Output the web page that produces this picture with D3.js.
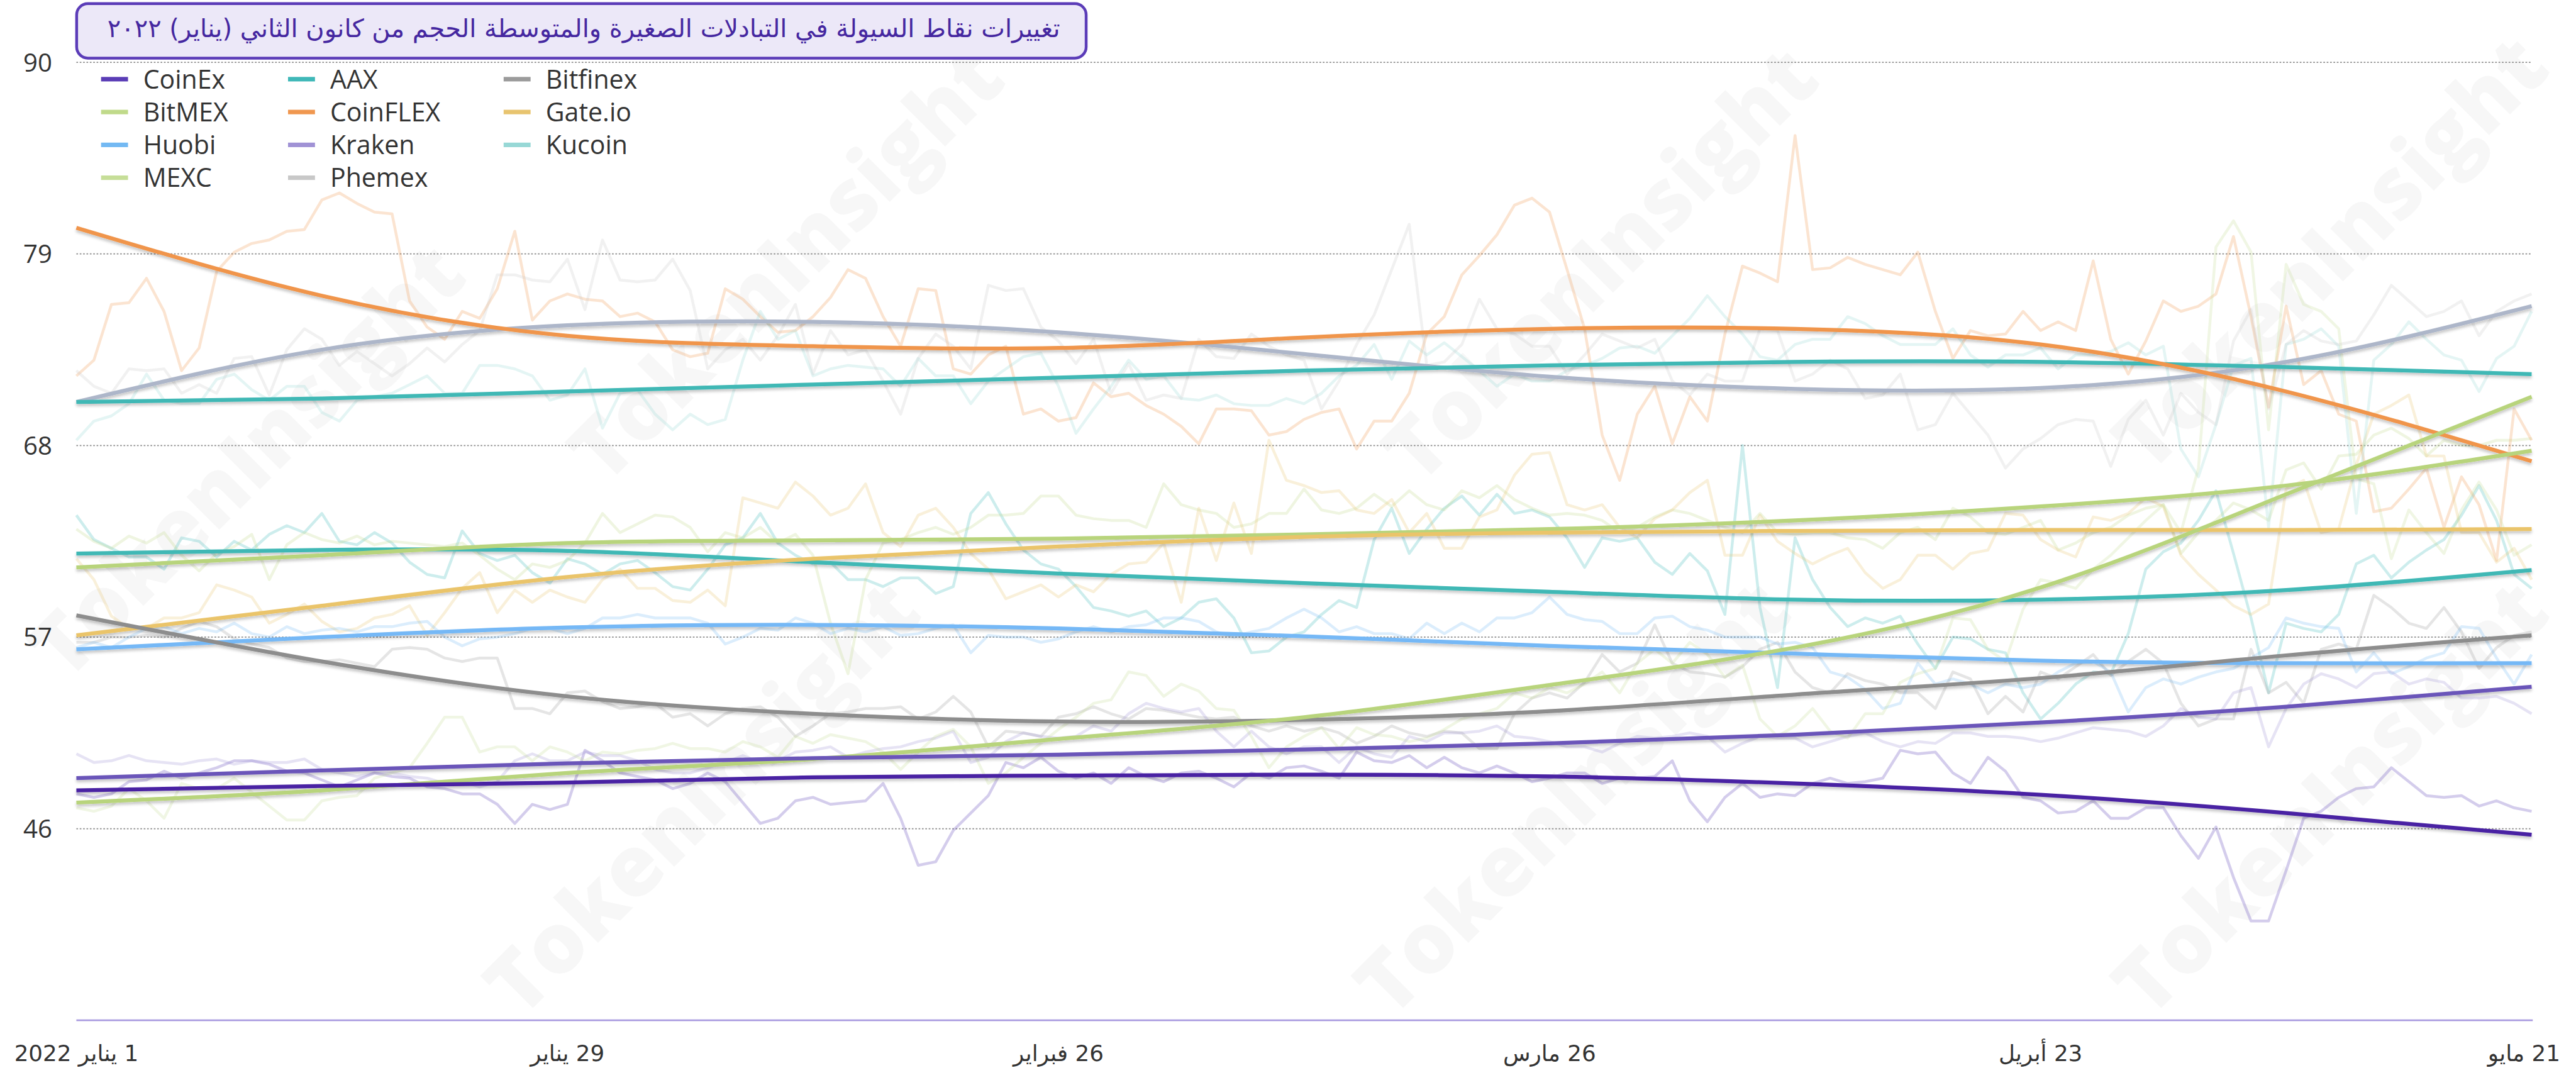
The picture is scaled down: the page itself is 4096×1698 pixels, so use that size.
<!DOCTYPE html>
<html>
<head>
<meta charset="utf-8">
<script src="https://cdn.jsdelivr.net/npm/d3@7"></script>
<style>
  html, body { margin: 0; padding: 0; background: #fff; }
  svg { display: block; }
</style>
</head>
<body>
<svg id="chart"></svg>
<script>
var W = 4096, H = 1698,
    k = W / 4588;          // reference was 4588 wide, everything is drawn in its units

// ---- data ----
var startDate = new Date(2022, 0, 1),
    endDate = new Date(2022, 4, 21);

var names = ["CoinEx", "AAX", "Bitfinex", "BitMEX", "CoinFLEX", "Gate.io",
             "Huobi", "Kraken", "Kucoin", "MEXC", "Phemex"];

var swatchColors = ["#5a3db6", "#3fb8b8", "#9b9b9b", "#c0da8a", "#f0974f", "#e8c46f",
                    "#73b9f3", "#a092d5", "#97d8d6", "#c6de98", "#c8c8c8"];

var trendColors = ["#4a23a3", "#3fb8b5", "#8d8d8d", "#b8d47b", "#f0954b", "#eac46b",
                   "#74b8f6", "#6b55b9", "#3fb8b5", "#b8d47b", "#adb6c9"];

// daily values, 1 Jan .. 21 May
var coinexRaw = [48.0,47.8,48.0,48.7,48.8,49.3,48.9,49.2,49.5,49.9,49.9,49.7,49.3,49.2,48.8,48.4,48.8,49.2,49.0,48.9,48.4,48.3,48.0,48.0,47.4,46.3,47.4,47.1,47.4,50.5,49.9,49.2,49.0,48.8,48.3,48.6,
  49.2,48.7,47.5,46.3,46.6,47.6,47.8,47.4,47.5,47.6,48.6,46.6,43.9,44.1,45.9,46.9,47.9,49.8,49.5,50.1,49.3,48.9,49.2,48.6,49.5,49.0,48.7,49.2,49.3,48.9,48.4,49.2,48.9,49.5,
  49.6,49.3,48.9,50.4,49.9,49.8,50.2,49.5,50.1,49.5,49.2,49.6,49.2,48.7,48.9,49.2,49.2,48.6,48.9,48.9,49.0,49.9,47.6,46.4,47.8,48.6,47.8,48.0,47.9,48.6,48.9,48.6,48.7,48.9,50.5,
  50.3,50.4,49.2,48.6,50.1,49.3,47.8,47.6,46.9,47.0,47.6,46.6,46.6,47.2,47.2,45.6,44.3,46.1,43.2,40.7,40.7,43.6,46.6,47.0,47.8,48.3,48.4,49.5,48.7,47.9,47.8,47.9,47.3,47.6,47.2,47.0];
var aaxRaw = [64.0,62.6,62.1,61.6,61.6,60.9,62.7,62.5,61.6,62.5,62.0,62.9,63.4,63.0,64.1,62.5,62.3,63.0,62.4,61.3,60.6,60.4,63.1,61.8,61.4,61.7,60.7,60.1,61.5,61.2,60.6,61.2,61.4,60.7,59.9,59.7,
  60.9,62.3,62.7,64.1,62.4,61.7,61.2,61.3,60.3,60.3,59.9,60.4,60.4,59.5,59.9,64.1,65.3,63.5,62.0,61.2,60.9,59.9,58.7,58.5,58.2,58.5,57.6,58.1,59.0,59.2,58.1,56.1,56.2,57.0,
  57.3,58.3,59.1,58.7,62.6,64.4,61.8,63.2,64.4,65.1,64.0,65.2,64.1,64.3,63.9,62.7,61.0,62.7,62.5,62.7,61.3,60.6,61.8,60.8,58.3,68.0,58.7,54.1,62.7,60.3,58.7,57.6,58.1,57.8,58.2,
  56.6,55.2,57.0,56.9,56.3,56.1,53.8,52.3,53.2,54.3,55.0,54.9,57.2,60.9,61.9,62.4,63.7,65.4,61.8,58.1,53.8,57.8,57.5,57.3,58.3,61.2,61.7,60.4,61.3,62.0,62.6,64.0,65.7,63.7,60.6,59.8];
var bitfinexRaw = [56.7,56.7,57.0,57.0,57.1,57.0,57.5,57.9,57.6,56.9,56.6,56.4,55.8,55.6,55.6,55.7,55.5,55.3,56.3,56.4,56.3,55.8,55.6,55.8,55.8,52.9,52.9,52.6,53.8,53.9,53.3,52.9,53.0,53.2,52.4,52.6,
  51.9,52.6,52.9,53.0,52.4,51.3,51.9,52.6,52.7,52.9,52.9,53.0,52.3,52.7,53.6,52.7,50.7,51.6,51.5,51.3,52.4,52.6,53.0,52.6,52.3,52.9,52.8,52.6,52.4,52.3,52.4,51.9,51.6,51.9,
  51.6,51.8,51.5,50.9,51.3,51.9,51.5,51.3,51.6,51.5,50.6,50.6,52.6,53.5,53.8,53.5,54.4,56.0,55.0,55.5,57.7,55.5,55.0,54.9,54.7,55.3,56.3,56.7,55.0,54.1,53.8,54.9,54.5,54.3,53.8,
  53.8,52.9,55.0,54.6,52.6,53.6,52.7,55.0,54.6,55.3,56.0,54.8,55.6,56.3,55.5,53.2,51.9,52.3,52.3,56.3,53.8,54.4,53.2,56.3,56.6,56.3,59.4,58.7,57.8,57.5,58.7,57.3,55.2,56.4,57.1,57.3];
var bitmexRaw = [63.2,62.5,62.1,62.8,62.4,63.0,61.7,60.8,61.8,62.2,62.9,60.3,62.3,63.0,62.6,62.4,62.8,62.3,62.5,62.4,62.3,62.2,62.4,61.7,60.9,60.3,61.2,61.0,61.4,62.4,64.1,63.0,63.5,64.0,63.9,63.3,
  61.9,63.0,62.7,63.3,62.4,62.9,61.7,57.8,54.9,60.3,62.4,62.6,63.0,63.3,62.9,63.3,64.0,64.0,64.1,65.1,65.1,64.0,63.8,63.7,63.7,63.3,65.8,64.6,64.3,64.1,63.3,63.5,64.1,64.1,
  65.5,64.3,64.1,64.4,65.2,64.5,65.4,64.6,64.3,65.4,65.0,65.7,64.9,64.4,64.0,64.1,64.0,63.7,63.0,63.3,63.9,64.3,64.1,63.7,63.3,63.0,64.1,63.0,62.9,63.0,63.0,62.7,62.6,62.1,63.0,
  63.3,62.6,64.4,63.9,63.0,62.9,63.3,63.7,62.0,62.4,63.0,63.3,64.0,64.4,64.6,61.8,63.0,63.7,64.7,64.3,63.7,66.6,67.0,65.5,67.4,67.5,68.6,69.0,68.4,67.4,68.3,68.0,68.0,68.3,68.3,68.4];
var coinflexRaw = [72.0,72.9,76.1,76.2,77.6,75.7,72.3,73.6,78.0,79.1,79.6,79.8,80.3,80.4,82.1,82.5,81.9,81.4,81.3,76.3,74.8,74.1,75.7,75.3,77.0,80.3,75.2,76.3,76.7,76.4,76.3,75.4,75.6,75.1,73.5,73.1,
  73.3,77.0,76.4,75.4,74.5,74.6,75.4,76.5,78.1,77.6,75.4,73.7,77.0,76.9,72.4,72.1,73.2,73.7,69.8,70.1,69.4,69.6,71.6,70.8,71.0,70.3,69.8,69.1,68.1,70.1,70.1,70.0,68.6,68.8,
  69.5,69.9,70.1,67.8,69.4,69.4,71.0,74.4,75.4,77.8,78.9,80.1,81.8,82.2,81.4,78.1,74.7,68.6,66.0,69.8,71.4,68.1,70.8,69.4,74.4,78.3,77.9,77.4,85.8,78.1,78.2,78.8,78.4,78.1,77.8,
  79.1,75.7,73.0,74.6,74.3,74.4,75.7,74.6,75.1,74.6,78.6,74.1,72.1,74.0,76.3,75.7,76.0,76.7,80.0,75.4,70.2,76.0,71.5,72.3,69.8,69.4,64.2,64.4,65.5,66.7,63.3,66.2,64.6,61.4,70.1,68.3];
var gateioRaw = [61.5,60.3,58.2,57.5,57.5,58.1,58.1,58.4,60.0,59.7,59.3,57.8,58.3,58.9,57.9,57.3,57.5,58.1,58.3,58.8,57.1,58.4,59.8,60.7,58.4,59.7,59.0,59.7,59.3,59.0,60.3,60.9,59.8,59.8,59.1,59.0,
  59.7,58.8,65.0,64.7,64.4,65.9,65.1,64.0,64.4,65.8,63.0,62.2,64.0,64.4,63.3,61.8,60.9,59.2,59.6,60.0,59.3,60.0,59.6,60.6,61.2,61.3,62.4,59.0,64.4,61.4,64.7,61.8,68.3,66.0,
  65.7,65.3,65.4,64.3,64.1,64.9,63.0,64.1,62.1,62.1,63.9,64.3,66.3,67.5,67.6,64.6,64.3,64.6,63.3,62.7,63.8,64.3,65.3,66.0,61.7,61.7,64.0,62.5,61.8,61.2,61.7,62.1,60.7,59.8,60.3,
  61.7,61.7,60.9,61.8,62.0,64.1,64.0,62.6,62.0,61.6,63.9,63.7,64.1,65.0,64.5,61.7,60.6,59.7,58.8,58.3,58.9,65.5,66.0,63.0,63.2,66.9,69.8,70.3,70.9,67.4,67.4,63.0,63.0,61.3,62.1,60.3];
var huobiRaw = [56.4,56.7,56.4,57.0,57.5,57.6,57.2,57.5,57.3,57.8,57.2,57.0,57.6,57.2,57.4,57.5,57.3,57.6,57.6,57.8,57.9,57.0,56.5,56.9,57.0,57.2,57.5,57.5,57.2,57.5,58.1,58.1,58.3,58.1,58.1,58.1,
  57.8,56.6,57.0,57.5,57.4,58.1,57.8,57.2,57.5,57.3,57.6,57.1,57.2,57.5,57.7,56.1,57.1,57.0,57.0,56.7,56.9,57.3,57.6,57.3,57.6,57.7,58.1,58.1,57.9,57.3,57.0,57.3,57.5,58.1,
  58.6,58.1,57.3,57.6,57.2,57.2,56.9,57.8,57.2,57.8,57.3,58.1,58.1,58.4,59.3,58.3,58.0,57.9,57.2,57.2,58.1,58.2,57.6,57.4,57.0,57.0,57.0,56.6,56.7,56.4,55.0,54.7,54.0,52.9,53.2,
  55.5,54.3,54.6,54.3,53.8,54.3,54.1,54.3,55.0,55.5,55.6,55.0,52.7,54.1,54.6,54.3,54.7,55.0,55.2,55.8,56.4,58.1,57.8,57.6,57.5,55.0,56.1,54.9,55.3,55.8,56.1,57.6,57.5,55.8,54.3,56.0];
var krakenRaw = [50.3,49.8,49.9,50.2,49.9,49.8,49.7,49.9,50.0,49.7,49.9,49.8,49.8,50.0,49.4,49.2,49.0,49.2,49.2,49.0,48.9,48.6,48.7,48.4,48.7,49.9,50.3,49.9,49.9,50.4,50.2,50.2,49.9,49.4,49.2,49.2,
  49.5,49.8,50.2,49.8,49.9,50.4,50.5,50.7,50.1,50.4,50.6,50.7,51.0,51.2,51.6,49.8,50.1,51.0,51.5,51.3,51.2,51.3,51.9,51.6,52.6,53.2,52.9,52.7,52.9,51.6,50.7,51.6,50.7,50.3,
  50.7,50.7,49.8,50.7,50.3,50.1,51.3,51.0,51.5,51.5,51.6,51.9,51.3,51.2,51.0,50.7,50.7,50.4,50.9,51.3,51.2,51.3,51.5,51.3,50.4,50.9,51.3,51.2,51.2,50.7,51.0,51.3,51.5,51.0,50.7,
  51.0,50.9,51.5,51.5,51.3,51.3,51.2,51.0,51.2,51.5,51.8,51.7,51.6,51.3,51.9,52.9,52.4,52.3,53.8,54.1,50.7,52.9,54.3,54.9,54.6,54.1,54.9,55.0,54.3,54.6,54.4,53.5,53.5,53.6,53.2,52.6];
var kucoinRaw = [68.3,69.4,69.7,70.4,72.1,70.6,70.4,70.4,71.8,72.1,71.2,70.6,71.4,71.4,69.9,69.4,70.6,70.8,71.0,71.5,72.0,71.0,71.0,72.6,72.6,72.4,72.0,70.6,70.9,72.4,69.0,71.0,71.2,69.8,68.9,69.8,
  69.2,69.5,72.9,75.7,74.1,74.6,72.0,72.4,72.6,72.5,72.4,71.4,73.0,72.0,72.0,70.4,71.7,72.4,73.1,73.3,71.4,68.7,70.1,71.4,72.9,71.8,72.0,70.7,70.6,70.9,70.4,70.3,70.3,70.7,
  70.4,71.0,72.0,72.6,73.8,71.8,74.0,73.2,73.9,73.1,72.3,71.4,72.1,71.7,71.7,72.3,72.6,73.0,73.6,73.7,73.3,74.3,75.3,76.6,75.4,74.4,73.1,72.9,73.8,74.1,74.1,75.4,75.0,74.3,73.8,
  73.8,73.8,74.7,73.2,72.5,73.2,73.2,73.6,72.4,73.2,73.2,73.4,73.9,73.2,73.7,67.8,66.2,69.2,72.6,73.0,63.3,73.8,74.1,74.7,73.7,64.1,72.9,73.8,75.1,74.1,73.2,72.9,71.1,73.0,73.7,75.7];
var mexcRaw = [47.2,47.0,47.3,48.3,47.6,46.6,48.6,48.3,48.3,48.9,48.1,47.3,46.5,46.5,47.6,47.8,47.9,48.9,49.2,49.5,50.9,52.4,52.4,50.4,50.7,50.7,49.9,50.7,50.4,49.9,50.4,50.3,50.5,50.6,50.9,50.6,
  50.6,50.4,51.0,50.7,50.1,51.3,50.9,51.4,51.2,51.0,50.4,49.4,50.4,51.3,51.7,50.7,48.6,49.2,50.1,50.9,51.7,52.4,53.2,53.4,55.0,54.8,53.6,54.3,53.9,52.9,52.8,51.3,49.5,50.7,
  51.3,51.8,50.6,51.8,51.4,51.3,51.0,51.2,51.7,52.3,52.6,52.9,53.8,53.5,54.1,53.8,54.3,55.0,53.8,55.5,56.3,55.5,56.7,56.0,54.7,55.4,52.3,51.3,51.9,52.9,51.6,51.2,52.6,52.6,54.4,
  54.9,55.2,58.1,58.0,56.3,55.6,58.6,60.3,60.1,59.8,60.9,61.7,62.7,63.7,64.6,63.0,66.7,79.4,80.9,79.1,68.9,78.4,76.1,75.7,74.7,66.1,65.8,61.5,64.3,63.0,61.8,64.3,65.9,64.3,61.7,62.3];
var phemexRaw = [72.3,71.4,71.0,72.4,72.3,72.4,71.0,71.5,71.0,73.0,73.1,70.9,73.5,74.7,74.1,72.6,73.4,72.7,72.0,72.7,73.6,72.8,73.8,74.6,77.8,77.8,77.5,77.4,78.7,75.8,79.8,77.5,77.4,77.5,78.7,76.9,
  72.4,73.5,74.1,72.9,74.3,76.1,72.1,74.6,73.2,73.5,71.7,69.8,73.0,74.4,73.7,72.4,77.2,76.9,77.0,74.8,74.0,72.7,74.1,71.0,72.7,70.6,70.9,70.7,74.1,73.1,73.0,74.4,73.7,73.2,
  72.9,70.1,71.7,73.8,75.5,78.1,80.7,72.6,72.8,73.8,76.4,74.7,74.4,73.7,73.7,72.1,73.2,74.4,74.0,73.6,74.1,71.7,70.9,72.1,71.7,71.7,74.7,74.6,71.7,72.1,72.9,72.4,70.7,70.9,72.1,
  68.9,69.2,71.0,69.8,68.6,66.7,67.8,68.4,69.2,69.5,69.4,66.8,69.5,70.6,68.6,71.0,69.9,69.2,74.0,75.8,70.1,73.8,74.6,74.0,73.8,74.0,75.5,77.2,76.3,75.4,75.7,76.3,74.3,75.7,76.3,76.7];

// fitted trend, read every 14 days (day 0, 14, ... 140)
var trendDays = [0, 14, 28, 42, 56, 70, 84, 98, 112, 126, 140];
var coinexTrend   = [48.2, 48.45, 48.65, 48.95, 49.05, 49.1, 49.0, 48.6, 47.95, 46.9, 45.65];
var aaxTrend      = [61.8, 62.0, 61.95, 61.3, 60.65, 60.1, 59.6, 59.15, 59.15, 59.7, 60.85];
var bitfinexTrend = [58.25, 55.6, 53.6, 52.6, 52.15, 52.25, 52.75, 53.7, 54.65, 55.95, 57.1];
var bitmexTrend   = [61.0, 61.7, 62.4, 62.55, 62.65, 62.9, 63.2, 63.7, 64.5, 65.7, 67.7];
var coinflexTrend = [80.5, 76.6, 74.3, 73.7, 73.6, 74.2, 74.7, 74.7, 73.8, 71.1, 67.1];
var gateioTrend   = [57.1, 58.8, 60.45, 61.5, 62.2, 62.75, 63.0, 63.1, 63.15, 63.15, 63.2];
var huobiTrend    = [56.3, 57.0, 57.55, 57.7, 57.5, 57.05, 56.5, 56.05, 55.65, 55.5, 55.5];
var krakenTrend   = [48.9, 49.35, 49.75, 50.05, 50.25, 50.55, 50.9, 51.4, 52.1, 53.0, 54.15];
var kucoinTrend   = [70.5, 70.7, 71.1, 71.5, 71.9, 72.3, 72.6, 72.8, 72.8, 72.5, 72.1];
var mexcTrend     = [47.5, 48.2, 49.2, 50.0, 51.15, 52.4, 54.25, 56.4, 59.85, 65.2, 70.8];
var phemexTrend   = [70.5, 73.5, 74.9, 75.1, 74.5, 73.25, 71.95, 71.25, 71.3, 72.8, 76.0];

var yTicks = [46, 57, 68, 79, 90];
var xTickDays = [0, 28, 56, 84, 112, 140];
var xTickLabels = ["1 يناير 2022", "29 يناير", "26 فبراير", "26 مارس", "23 أبريل", "21 مايو"];
var titleText = "تغييرات نقاط السيولة في التبادلات الصغيرة والمتوسطة الحجم من كانون الثاني (يناير) ٢٠٢٢";

var rawSeries = [coinexRaw, aaxRaw, bitfinexRaw, bitmexRaw, coinflexRaw, gateioRaw,
                 huobiRaw, krakenRaw, kucoinRaw, mexcRaw, phemexRaw];
var trendSeries = [coinexTrend, aaxTrend, bitfinexTrend, bitmexTrend, coinflexTrend, gateioTrend,
                   huobiTrend, krakenTrend, kucoinTrend, mexcTrend, phemexTrend];

var series = names.map(function(n, i) {
  return { name: n, raw: rawSeries[i], trend: trendSeries[i],
           swatch: swatchColors[i], color: trendColors[i] };
});

// ---- layout (reference pixels) ----
var plotLeft = 136, plotRight = 4509, plotTop = 111, plotBottom = 1817;

var x = d3.scaleTime().domain([startDate, endDate]).range([plotLeft, plotRight]);
var y = d3.scaleLinear().domain([35, 90]).range([plotBottom, plotTop]);

function day(i) { return d3.timeDay.offset(startDate, i); }

var svg = d3.select("#chart").attr("width", W).attr("height", H);
svg.append("rect").attr("width", W).attr("height", H).attr("fill", "#fff");

var defs = svg.append("defs");
var shadow = defs.append("filter").attr("id", "shadow")
    .attr("filterUnits", "userSpaceOnUse")
    .attr("x", 0).attr("y", 0).attr("width", 4588).attr("height", 1902);
shadow.append("feDropShadow")
    .attr("dx", 0).attr("dy", 4).attr("stdDeviation", 2.5)
    .attr("flood-color", "#000").attr("flood-opacity", 0.22);

var root = svg.append("g").attr("transform", "scale(" + k + ")");

// watermark, kept inside the frame
var wm = root.append("g").attr("class", "watermark");
var wmSpots = [[2800, 1420], [2850, 470], [1250, 1420], [1400, 470], [4150, 1420], [4150, 450], [440, 820]];
wm.selectAll("text").data(wmSpots).enter().append("text")
    .attr("transform", function(d) { return "translate(" + d[0] + "," + d[1] + ") rotate(-45)"; })
    .attr("text-anchor", "middle")
    .attr("dy", "0.35em")
    .style("font-family", "'Open Sans', sans-serif")
    .style("font-weight", 800)
    .style("font-size", "150px")
    .attr("fill", "#000")
    .attr("fill-opacity", 0.03)
    .text("TokenInsight");

// gridlines
root.append("g").selectAll("line").data(yTicks).enter().append("line")
    .attr("x1", plotLeft).attr("x2", plotRight)
    .attr("y1", function(d) { return y(d); })
    .attr("y2", function(d) { return y(d); })
    .attr("stroke", "#8c8c8c")
    .attr("stroke-width", 2)
    .attr("stroke-dasharray", "3,3");

// y labels
root.append("g").selectAll("text").data(yTicks).enter().append("text")
    .attr("x", 93)
    .attr("y", function(d) { return y(d); })
    .attr("dy", "0.36em")
    .attr("text-anchor", "end")
    .style("font-family", "'Open Sans', sans-serif")
    .style("font-size", "45px")
    .attr("fill", "#333")
    .text(function(d) { return d; });

// x axis line
root.append("line")
    .attr("x1", plotLeft).attr("x2", plotRight + 2)
    .attr("y1", plotBottom).attr("y2", plotBottom)
    .attr("stroke", "#a99be0").attr("stroke-width", 3);

// x labels
var xl = root.append("g").selectAll("text").data(xTickDays).enter().append("text")
    .attr("x", function(d) { return x(day(d)); })
    .attr("y", 1890)
    .attr("text-anchor", "middle")
    .attr("direction", "rtl")
    .style("font-family", "'DejaVu Sans', sans-serif")
    .style("font-size", "40px")
    .attr("fill", "#333")
    .text(function(d, i) { return xTickLabels[i]; });
xl.each(function() {
  var b = this.getBBox();
  if (b.x + b.width > 4560) d3.select(this).attr("x", +d3.select(this).attr("x") - (b.x + b.width - 4560));
});

// raw daily lines (faint)
var rawLine = d3.line()
    .x(function(d, i) { return x(day(i)); })
    .y(function(d) { return y(d); });

root.append("g").selectAll("path").data(series).enter().append("path")
    .attr("d", function(s) { return rawLine(s.raw); })
    .attr("fill", "none")
    .attr("stroke", function(s) { return s.swatch; })
    .attr("stroke-width", 5)
    .attr("stroke-linejoin", "round")
    .attr("stroke-opacity", 0.26);

// trend lines
var trendLine = d3.line()
    .x(function(d, i) { return x(day(trendDays[i])); })
    .y(function(d) { return y(d); })
    .curve(d3.curveNatural);

var trendOrder = [10, 8, 4, 1, 3, 5, 6, 2, 9, 7, 0];
root.append("g").attr("filter", "url(#shadow)")
  .selectAll("path").data(trendOrder.map(function(i) { return series[i]; })).enter().append("path")
    .attr("d", function(s) { return trendLine(s.trend); })
    .attr("fill", "none")
    .attr("stroke", function(s) { return s.color; })
    .attr("stroke-width", 7)
    .attr("stroke-linecap", "butt");

// legend
var colX = [180, 513, 897], rowY = [141, 199.5, 258, 316.5];
var leg = root.append("g").selectAll("g").data(series).enter().append("g")
    .attr("transform", function(d, i) {
      return "translate(" + colX[i % 3] + "," + rowY[Math.floor(i / 3)] + ")";
    });
leg.append("rect")
    .attr("x", 0).attr("y", -4)
    .attr("width", 48).attr("height", 8)
    .attr("fill", function(d) { return d.swatch; });
leg.append("text")
    .attr("x", 75).attr("dy", "0.36em")
    .style("font-family", "'Open Sans', sans-serif")
    .style("font-size", "46px")
    .attr("fill", "#333")
    .text(function(d) { return d.name; });

// title box
root.append("rect")
    .attr("x", 136.5).attr("y", 6.5)
    .attr("width", 1798).attr("height", 97)
    .attr("rx", 20).attr("ry", 20)
    .attr("fill", "#ece8f8")
    .attr("stroke", "#5b3cb8")
    .attr("stroke-width", 5);

var title = root.append("text")
    .attr("x", 1888).attr("y", 66)
    .attr("direction", "rtl")
    .attr("text-anchor", "start")
    .style("font-family", "'DejaVu Sans', sans-serif")
    .style("font-size", "48px")
    .attr("fill", "#4527a0")
    .text(titleText);

// fit title between x=191 and x=1888
var tb = title.node().getBBox();
var fs = Math.max(36, Math.min(60, 48 * 1697 / tb.width));
title.style("font-size", fs + "px");
tb = title.node().getBBox();
title.attr("x", 1888 + (1888 - (tb.x + tb.width)));
</script>
</body>
</html>
